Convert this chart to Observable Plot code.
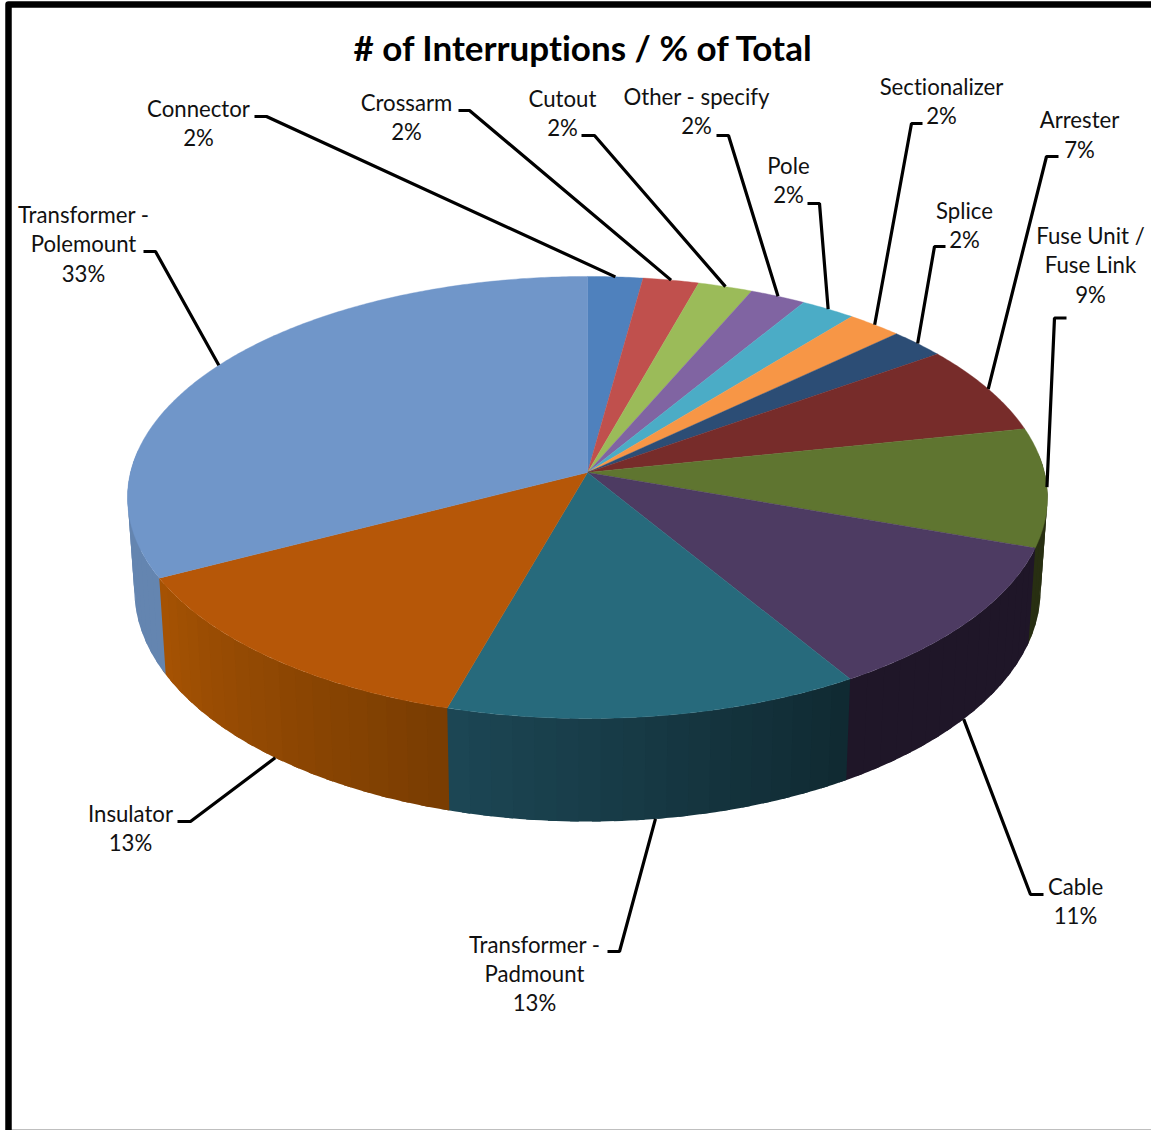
<!DOCTYPE html>
<html>
<head>
<meta charset="utf-8">
<script src="https://cdn.jsdelivr.net/npm/d3@7"></script>
<script src="https://cdn.jsdelivr.net/npm/@observablehq/plot@0.6"></script>
<style>
  html, body { margin: 0; padding: 0; background: #fff; }
  svg text { font-variant-ligatures: none; }
</style>
</head>
<body>
<div id="chart"></div>
<script>
// Share of interruptions by equipment type, percent of total.
const categories = [
  "Connector", "Crossarm", "Cutout", "Other - specify", "Pole", "Sectionalizer", "Splice",
  "Arrester", "Fuse Unit /\nFuse Link", "Cable", "Transformer -\nPadmount", "Insulator",
  "Transformer -\nPolemount"
];
const shares = [2.16, 2.19, 2.14, 2.19, 2.15, 2.16, 2.20, 6.52, 8.70, 10.90, 13.10, 13.00, 32.59];

// Slice colours for the top face.
const topColors = [
  "#4f81bd", "#c0504d", "#9bbb59", "#8064a2", "#4bacc6", "#f79646", "#2c4d75",
  "#772c2a", "#5f7530", "#4d3b62", "#276a7c", "#b65708", "#7096c9"
];
// Side wall shading per slice, clockwise start and end of each wall.
const wallStart = [null, null, null, null, null, null, null, null, "#282f12", "#1f1628", "#102a32", "#7a3d02", "#6485b0"];
const wallEnd   = [null, null, null, null, null, null, null, null, "#282f12", "#1f1628", "#1c4654", "#a55203", "#6485b0"];

// Label placement: block centre, then the two ends of the short leader elbow.
const labelX = [198, 406, 562, 696, 788, 941, 964, 1079, 1090, 1075, 534, 130, 83];
const labelY = [121.3, 115.3, 111.3, 109.3, 178.3, 99.3, 223.3, 133, 263.5, 899.8, 972.3, 826.3, 242.5];
const elbowFromX = [254, 458, 581, 716, 807, 922, 945, 1058, 1066, 1043, 607, 177, 143];
const elbowToX   = [266, 469, 594, 728, 819, 911, 934, 1046, 1054, 1030, 619, 190, 155];
const elbowY     = [116, 110, 135, 135, 203, 123, 246, 156, 317.5, 894, 951, 821, 251];

const title = "# of Interruptions / % of Total";

// Tilted disc: a circle seen in perspective, plus its lower edge.
const disc = {cx: 587, cy: 472, rx: 457, ry: 218.2, k: 0.113, shrink: 0.985, stretch: 1.047, y0: 547, y1: 642};
const rad = (a) => (a * Math.PI) / 180;

function rim(angle) {
  const u = Math.sin(rad(angle));
  const v = Math.cos(rad(angle));
  const w = 1 + disc.k * v;
  return [disc.cx + (disc.rx * u) / w, disc.cy - (disc.ry * v) / w];
}
function lower([x, y]) {
  return [disc.cx + (x - disc.cx) * disc.shrink, disc.y1 + (y - disc.y0) * disc.stretch];
}

// Cumulative angle of each slice.
const total = d3.sum(shares);
let running = 0;
const slices = shares.map((share, i) => {
  const start = (running / total) * 360;
  running += share;
  const end = (running / total) * 360;
  return {i, name: categories[i], share, start, end, mid: (start + end) / 2};
});

// Top face outlines.
const topPoints = [];
for (const s of slices) {
  const push = ([x, y]) => topPoints.push({x, y, id: s.i, color: topColors[s.i]});
  push([disc.cx, disc.cy]);
  const n = Math.ceil((s.end - s.start) / 0.5);
  for (let j = 0; j <= n; ++j) push(rim(s.start + ((s.end - s.start) * j) / n));
  push([disc.cx, disc.cy]);
}

// Side walls, split into narrow shaded strips on the visible front half.
// Each strip runs slightly under the next one so no seam shows between them.
const wallPoints = [];
const stripStep = 2.5;
const stripOverlap = 1;
let strip = 0;
for (const s of slices) {
  if (!wallStart[s.i]) continue;
  const lo = Math.max(s.start, 85);
  const hi = Math.min(s.end, 275);
  const n = Math.max(1, Math.ceil((hi - lo) / stripStep));
  const shade = d3.interpolateRgb(wallStart[s.i], wallEnd[s.i]);
  for (let j = 0; j < n; ++j) {
    const a = lo + ((hi - lo) * j) / n;
    const b = lo + ((hi - lo) * (j + 1)) / n + stripOverlap;
    const color = shade(n > 1 ? j / (n - 1) : 0);
    const outline = [];
    for (let t = 0; t <= 4; ++t) outline.push(rim(a + ((b - a) * t) / 4));
    for (let t = 4; t >= 0; --t) outline.push(lower(rim(a + ((b - a) * t) / 4)));
    for (const [x, y] of outline) wallPoints.push({x, y, id: strip, color});
    ++strip;
  }
}

// Leaders run from the elbow to the rim at the middle of each slice:
// the lower edge for front slices, the top edge for the others.
const leaderPoints = [];
for (const s of slices) {
  const onRim = rim(s.mid);
  const front = Math.cos(rad(s.mid)) < -0.1;
  const [ex, ey] = front ? lower(onRim) : onRim;
  leaderPoints.push({x: elbowFromX[s.i], y: elbowY[s.i], id: s.i});
  leaderPoints.push({x: elbowToX[s.i], y: elbowY[s.i], id: s.i});
  leaderPoints.push({x: ex, y: ey, id: s.i});
}

const labels = slices.map((s) => ({
  x: labelX[s.i],
  y: labelY[s.i],
  text: `${s.name}\n${d3.format(".0f")(s.share)}%`
}));

// Outer chart border: heavy top and left edges, hairline along the bottom.
const frameEdge = [{x: 8, y: 1130}, {x: 8, y: 4}, {x: 1151, y: 4}];
const bottomEdge = [{x: 11, y: 1129.5}, {x: 1151, y: 1129.5}];

const shape = {x: "x", y: "y", z: "id", curve: "linear"};

const chart = Plot.plot({
  width: 1151,
  height: 1130,
  margin: 0,
  x: {domain: [0, 1151], range: [0, 1151], axis: null},
  y: {domain: [0, 1130], range: [0, 1130], axis: null},
  color: {type: "identity"},
  style: {fontFamily: "Lato, sans-serif", background: "#fff", color: "#111"},
  marks: [
    Plot.line(bottomEdge, {x: "x", y: "y", stroke: "#808080", strokeWidth: 1.2}),
    Plot.line(frameEdge, {x: "x", y: "y", stroke: "#000", strokeWidth: 6.5, strokeLinejoin: "round", strokeLinecap: "butt"}),
    Plot.line(wallPoints, {...shape, fill: "color", stroke: null}),
    Plot.line(topPoints, {...shape, fill: "color", stroke: "color", strokeWidth: 0.4}),
    Plot.line(leaderPoints, {...shape, stroke: "#000", strokeWidth: 3.2, strokeLinejoin: "miter", strokeLinecap: "butt"}),
    Plot.text(labels, {x: "x", y: "y", text: "text", fontSize: 22.2, lineHeight: 1.32, fill: "#111", textAnchor: "middle"}),
    Plot.text([title], {x: () => 582, y: () => 49.5, text: (d) => d, fontSize: 35, fontWeight: 700, fill: "#000"})
  ]
});
document.getElementById("chart").appendChild(chart);
</script>
</body>
</html>
